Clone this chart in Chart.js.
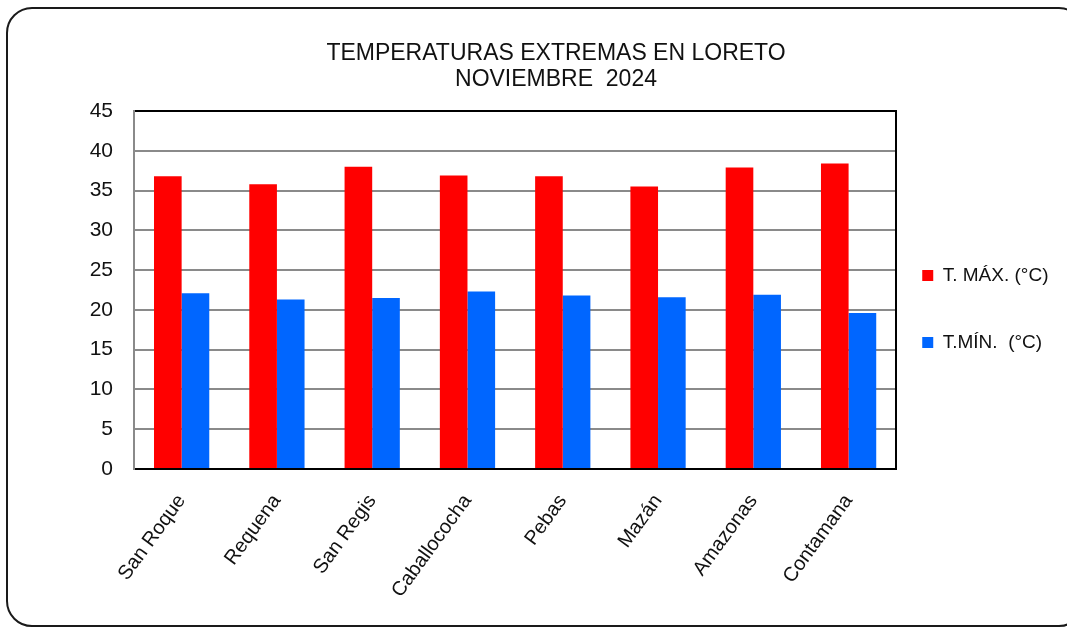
<!DOCTYPE html>
<html>
<head>
<meta charset="utf-8">
<script src="https://cdn.jsdelivr.net/npm/chart.js@4.4.1/dist/chart.umd.min.js"></script>
<style>
    body { margin: 0; background: #fff; overflow: hidden; }
    #frame {
        position: absolute; left: 6px; top: 7px;
        width: 1075px; height: 616px;
        border: 2px solid #1a1a1a; border-radius: 26px;
    }
    #wrap { position: absolute; left: 0; top: 0; width: 1067px; height: 628px; }
</style>
</head>
<body>
<div id="frame"></div>
<div id="wrap"><canvas id="chart" width="1067" height="628"></canvas></div>
<script>
const stations = ['San Roque', 'Requena', 'San Regis', 'Caballococha', 'Pebas', 'Mazán', 'Amazonas', 'Contamana'];
const t_max = [36.8, 35.8, 38.0, 36.9, 36.8, 35.5, 37.9, 38.4];
const t_min = [22.1, 21.3, 21.5, 22.3, 21.8, 21.6, 21.9, 19.6];
const title_lines = ['TEMPERATURAS EXTREMAS EN LORETO', 'NOVIEMBRE  2024'];

const ctx = document.getElementById('chart');

new Chart(ctx, {
    type: 'bar',
    data: {
        labels: stations,
        datasets: [{
            label: 'T. MÁX. (°C)',
            data: t_max,
            backgroundColor: '#ff0000',
            categoryPercentage: 0.58,
            barPercentage: 1.0
        }, {
            label: 'T.MÍN.  (°C)',
            data: t_min,
            backgroundColor: '#0066ff',
            categoryPercentage: 0.58,
            barPercentage: 1.0
        }]
    },
    options: {
        responsive: false,
        animation: false,
        layout: { padding: { left: 53.5, right: 8.5, top: 0, bottom: 0 } },
        plugins: {
            tooltip: { enabled: false },
            title: {
                display: true,
                text: title_lines,
                color: '#111',
                font: { family: 'Liberation Sans', size: 23, weight: 'normal', lineHeight: 1.13 },
                padding: { top: 41, bottom: 18 }
            },
            legend: {
                position: 'right',
                title: {
                    // empty title only pushes the two rows down a little
                    display: true,
                    text: ' ',
                    font: { size: 10, lineHeight: 1.2 },
                    padding: { top: 8, bottom: 8 }
                },
                labels: {
                    color: '#111',
                    boxWidth: 11,
                    boxHeight: 11,
                    padding: 10,
                    font: { family: 'Liberation Sans', size: 19, lineHeight: 3.0 },
                    generateLabels: (chart) => {
                        // wrap text in an array so the row height follows font.lineHeight
                        const items = Chart.defaults.plugins.legend.labels.generateLabels(chart);
                        items.forEach(it => { it.text = [it.text]; it.lineWidth = 0; });
                        return items;
                    }
                }
            }
        },
        scales: {
            x: {
                grid: { display: false, drawTicks: false },
                border: { color: '#000', width: 2 },
                ticks: {
                    color: '#111',
                    minRotation: 54,
                    maxRotation: 54,
                    padding: 21,
                    font: { family: 'Liberation Sans', size: 20 }
                },
                afterFit: (scale) => { scale.height = 159; }
            },
            x2: {
                position: 'top',
                grid: { display: false, drawTicks: false },
                border: { color: '#000', width: 2 },
                ticks: { display: false },
                afterFit: (scale) => { scale.height = 0; }
            },
            y: {
                min: 0,
                max: 45,
                ticks: {
                    stepSize: 5,
                    color: '#111',
                    padding: 21,
                    font: { family: 'Liberation Sans', size: 21 }
                },
                grid: {
                    drawTicks: false,
                    lineWidth: 2,
                    color: (c) => (c.tick && (c.tick.value === 45 || c.tick.value === 0)) ? 'rgba(0,0,0,0)' : '#8a8a8a'
                },
                border: { color: '#8a8a8a', width: 2 },
                afterFit: (scale) => { scale.width = 80.5; }
            },
            y2: {
                position: 'right',
                grid: { display: false, drawTicks: false },
                border: { color: '#000', width: 2 },
                ticks: { display: false },
                afterFit: (scale) => { scale.width = 16; }
            }
        }
    }
});
</script>
</body>
</html>
